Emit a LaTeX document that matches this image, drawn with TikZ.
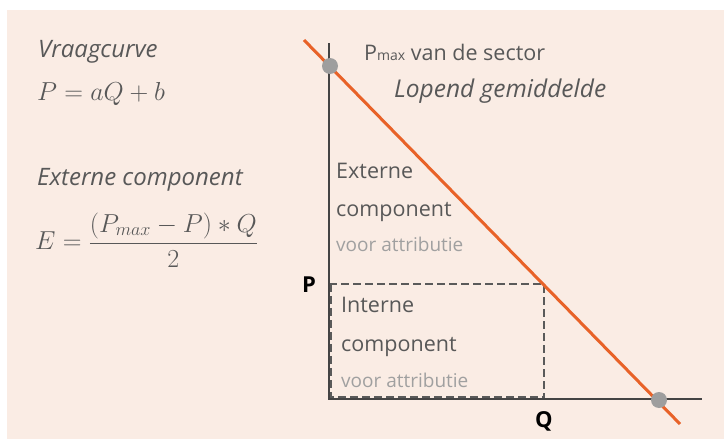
\RequirePackage{fix-cm}
\documentclass[tikz,border=0pt]{standalone}
\usepackage{amsmath}
\usepackage{fontspec}
\setmainfont{Open Sans}
\usetikzlibrary{positioning}

\definecolor{bgpeach}{RGB}{250,236,228}
\definecolor{txtgrey}{RGB}{88,88,88}
\definecolor{notegrey}{RGB}{160,160,160}
\definecolor{axisgrey}{RGB}{68,68,68}
\definecolor{dashgrey}{RGB}{90,90,90}
\definecolor{dotgrey}{RGB}{158,158,158}
\definecolor{demandorange}{RGB}{232,98,40}

\begin{document}
\begin{tikzpicture}[
    x=1pt, y=-1pt,
    txt/.style={anchor=base west, inner sep=0, text=txtgrey, font=\fontsize{21.5}{25}\selectfont},
    itxt/.style={txt, font=\fontsize{24}{28}\selectfont\itshape},
    note/.style={anchor=base west, inner sep=0, text=notegrey, font=\fontsize{19}{22}\selectfont},
    eq/.style={anchor=base west, inner sep=0, text=txtgrey, font=\fontsize{26}{30}\selectfont},
    lbl/.style={inner sep=0, text=black, font=\fontsize{22}{26}\selectfont\bfseries},
    axis/.style={draw=axisgrey, line width=2.6pt},
    guide/.style={draw=dashgrey, line width=2pt, dash pattern=on 8pt off 4pt},
    demand/.style={draw=demandorange, line width=3pt},
    dot/.style={circle, fill=dotgrey, minimum size=16pt, inner sep=0}
]
\useasboundingbox (0,0) rectangle (724,439);
\fill[bgpeach] (7,10) rectangle (724,439);

% left column
\node[itxt] (curve) at (38,57) {Vraagcurve};
\node[eq] (curveeq) at (37,100) {$P = aQ + b$};
\node[itxt] (ext) at (37,185) {Externe component};
\node[eq, anchor=west] (exteq) at (35,240) {$E = \dfrac{(P_{max} - P) * Q}{2}$};

% axes and guides
\coordinate (origin) at (329,399);
\coordinate (ytop) at (329,43);
\coordinate (xend) at (702,399);
\coordinate (pP) at (329,284);
\coordinate (pPQ) at (544,284);
\coordinate (pQ) at (544,399);
\draw[guide] (pP) -- (pPQ) -- (pQ);
\draw[guide] (331,284) -- (331,397) -- (544,397);
\draw[axis] (ytop) -- (origin) -- (xend);

% demand line
\coordinate (dtop) at (304,40);
\coordinate (dbot) at (680,424);
\draw[demand] (dtop) -- (dbot);
\node[dot] (pmax) at (330,66) {};
\node[dot] (qmax) at (659,400) {};

% labels
\node[lbl] (plbl) at (309,285) {P};
\node[lbl] (qlbl) at (544,421) {Q};
\node[txt] (pmaxtxt) at (364,60) {P{\fontsize{14}{16}\selectfont max} van de sector};
\node[itxt, font=\fontsize{24.5}{28}\selectfont\itshape] (avg) at (394,97) {Lopend gemiddelde};

\node[txt] (ext1) at (336,178) {Externe};
\node[txt] (ext2) at (336,216) {component};
\node[note] (ext3) at (336,251) {voor attributie};

\node[txt] (int1) at (341,312) {Interne};
\node[txt] (int2) at (341,351) {component};
\node[note] (int3) at (341,387) {voor attributie};
\end{tikzpicture}
\end{document}
